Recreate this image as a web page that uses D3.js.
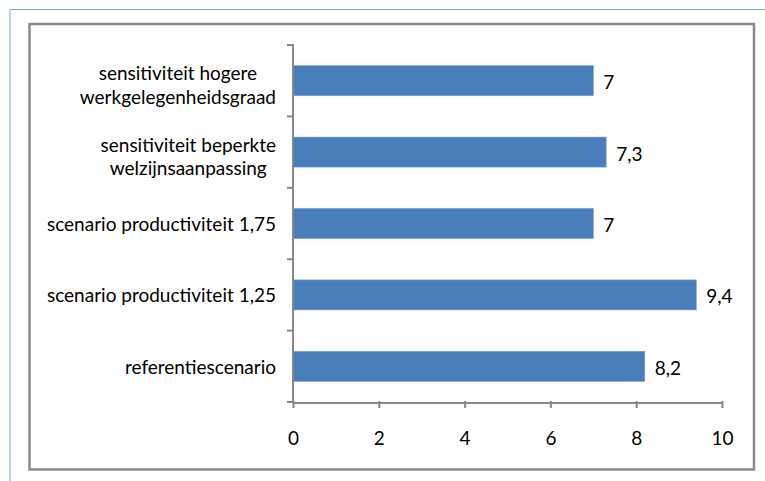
<!DOCTYPE html>
<html>
<head>
<meta charset="utf-8">
<script src="https://cdn.jsdelivr.net/npm/d3@7/dist/d3.min.js"></script>
<style>
  html, body { margin: 0; padding: 0; background: #fff; }
  svg { display: block; }
  text { font-family: Lato, "Open Sans", sans-serif; fill: #000; }
</style>
</head>
<body>
<svg id="chart" width="765" height="481"></svg>
<script>
// Categories, top to bottom; each entry is the list of label lines
const categories = [
  ["sensitiviteit hogere", "werkgelegenheidsgraad"],
  ["sensitiviteit beperkte", "welzijnsaanpassing"],
  ["scenario productiviteit 1,75"],
  ["scenario productiviteit 1,25"],
  ["referentiescenario"]
];
const values = [7, 7.3, 7, 9.4, 8.2];
const xTicks = [0, 2, 4, 6, 8, 10];

const fmt = v => String(v).replace(".", ",");

const svg = d3.select("#chart");
const axisColor = "#878787";
const barColor = "#4a7ebb";
const fontSize = 19;

// outer page frame lines
svg.append("line").attr("x1", 10).attr("x2", 765).attr("y1", 9.5).attr("y2", 9.5)
  .attr("stroke", "#7aa6d8").attr("stroke-width", 1);
svg.append("line").attr("x1", 10).attr("x2", 10).attr("y1", 9.5).attr("y2", 481)
  .attr("stroke", "#7aa6d8").attr("stroke-width", 1);

// chart frame
svg.append("rect").attr("x", 29.5).attr("y", 24).attr("width", 724.5).attr("height", 445.5)
  .attr("fill", "#fff").attr("stroke", "#8a8a8a").attr("stroke-width", 2.5);

const x = d3.scaleLinear().domain([0, 10]).range([293, 722]);
const y = d3.scaleBand().domain(d3.range(categories.length)).range([45, 402]).paddingInner(0.58).paddingOuter(0.29);
const yStep = d3.scaleBand().domain(d3.range(categories.length)).range([45, 402]);

// bars
svg.append("g").selectAll("rect").data(values).join("rect")
  .attr("x", x(0))
  .attr("y", (d, i) => y(i))
  .attr("width", d => x(d) - x(0))
  .attr("height", y.bandwidth())
  .attr("fill", barColor)
  .attr("stroke", "#6f9bd1")
  .attr("stroke-width", 0.6);

// value labels
svg.append("g").selectAll("text").data(values).join("text")
  .attr("x", d => x(d) + 10)
  .attr("y", (d, i) => y(i) + y.bandwidth() / 2 + 1)
  .attr("dominant-baseline", "central")
  .attr("font-size", fontSize)
  .text(d => fmt(d));

// y axis: line plus outward ticks at band boundaries
const yAxis = svg.append("g");
yAxis.append("line").attr("x1", x(0)).attr("x2", x(0)).attr("y1", 44).attr("y2", 403)
  .attr("stroke", axisColor).attr("stroke-width", 2);
const bounds = d3.range(categories.length + 1).map(i => i < categories.length ? yStep(i) : 402);
yAxis.selectAll("line.tick").data(bounds).join("line").attr("class", "tick")
  .attr("x1", x(0) - 6).attr("x2", x(0))
  .attr("y1", d => d).attr("y2", d => d)
  .attr("stroke", axisColor).attr("stroke-width", 2);

// x axis
const xAxis = svg.append("g").attr("transform", "translate(0,403)")
  .call(d3.axisBottom(x).tickValues(xTicks).tickSize(5).tickPadding(22).tickFormat(d => fmt(d)));
xAxis.select(".domain").attr("stroke", axisColor).attr("stroke-width", 2)
  .attr("d", `M${x(0)},0H${x(10)}`);
xAxis.selectAll(".tick line").attr("stroke", axisColor).attr("stroke-width", 2).attr("y1", -2);
xAxis.selectAll(".tick text").attr("font-size", fontSize).attr("font-family", null).attr("fill", "#000")
  .attr("dy", null).attr("y", 34).attr("dominant-baseline", "central");

// category labels: lines centred within a right-aligned block
const labelRight = 276;
const lg = svg.append("g");
categories.forEach((lines, i) => {
  const cy = yStep(i) + yStep.bandwidth() / 2;
  const texts = lines.map(l => lg.append("text").attr("font-size", fontSize).attr("dominant-baseline", "central").text(l));
  const widths = texts.map(t => t.node().getComputedTextLength());
  const maxW = d3.max(widths);
  const center = labelRight - maxW / 2;
  const offs = lines.length === 2 ? [-8, 15.5] : [0];
  texts.forEach((t, k) => t.attr("x", center).attr("text-anchor", "middle").attr("y", cy + offs[k]));
});
</script>
</body>
</html>
